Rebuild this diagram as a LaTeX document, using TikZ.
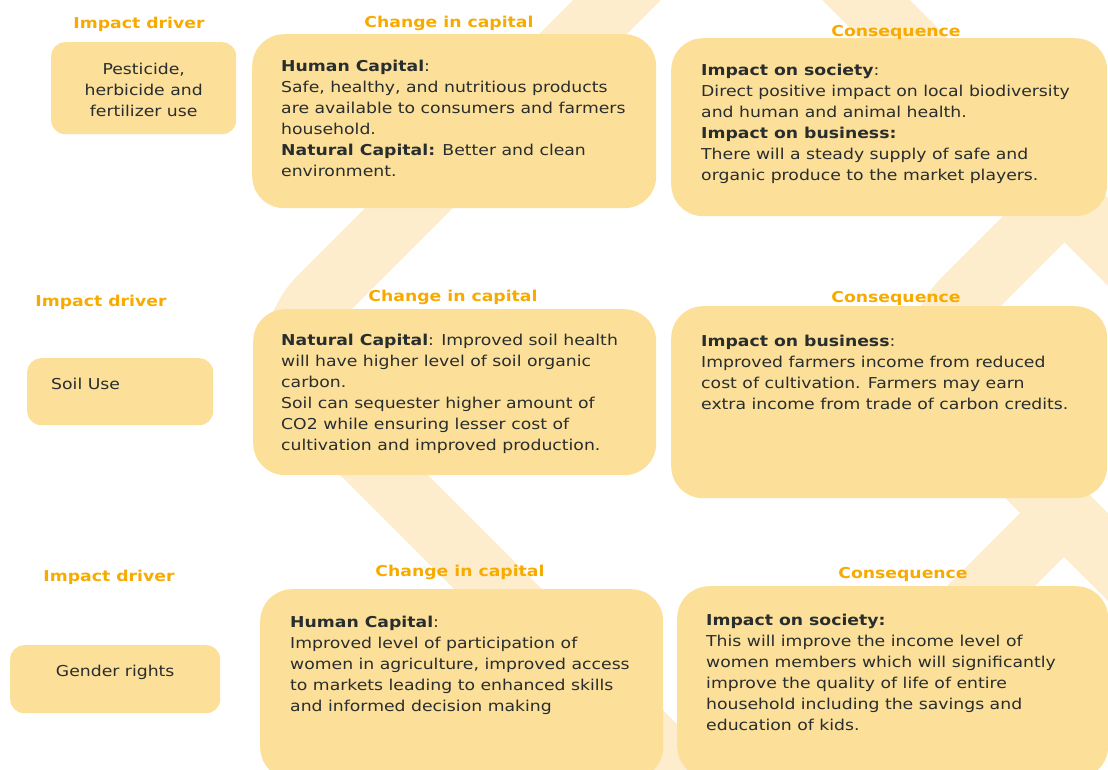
\documentclass[tikz,border=0pt]{standalone}
\usepackage{fontspec}
\setmainfont{DejaVu Sans}[FakeStretch=1.15]
\usetikzlibrary{positioning}

\definecolor{boxfill}{RGB}{252,223,153}
\definecolor{markpale}{RGB}{253,237,205}
\definecolor{headorange}{RGB}{247,170,0}
\definecolor{bodytext}{RGB}{40,45,45}

\tikzset{
  capbox/.style={rectangle, rounded corners=32pt, fill=boxfill, anchor=north west, inner sep=0pt},
  drvbox/.style={capbox, rounded corners=14pt},
  head/.style={font=\bfseries\fontsize{15}{18}\selectfont, text=headorange, inner sep=0pt},
  body/.style={font=\fontsize{15}{21}\selectfont, text=bodytext, align=left, inner sep=0pt, anchor=north west},
  band/.style={draw=markpale, line width=62pt, rounded corners=80pt},
}

\begin{document}
\begin{tikzpicture}[x=1pt, y=-1pt]
  \useasboundingbox (0,0) rectangle (1108,769);
  \clip (0,0) rectangle (1108,769);

  % pale logo in the back
  \draw[band] (700,-83) -- (263,354) -- (700,791);
  \draw[band] (800,-66) -- (1200,334);
  \draw[band] (1064,199) -- (907,356) -- (1150,599);
  \draw[band] (1064,513) -- (780,797);

  % row 1
  \node[drvbox, minimum width=185pt, minimum height=92pt] (drv1) at (51,42) {};
  \node[capbox, minimum width=404pt, minimum height=174pt] (chg1) at (252,34) {};
  \node[capbox, minimum width=436pt, minimum height=178pt] (con1) at (671,38) {};
  \node[head] (hdrv1) at (139,24) {Impact driver};
  \node[head] (hchg1) at (449,23) {Change in capital};
  \node[head] (hcon1) at (896,32) {Consequence};
  \node[body, anchor=center, align=center] (tdrv1) at ([yshift=-2pt]drv1.center) {Pesticide,\\herbicide and\\fertilizer use};
  \node[body, below right=26pt and 29pt of chg1.north west] (tchg1)
    {\textbf{Human Capital}:\\Safe, healthy, and nutritious products\\are available to consumers and farmers\\household.\\\textbf{Natural Capital:} Better and clean\\environment.};
  \node[body, below right=26pt and 30pt of con1.north west] (tcon1)
    {\textbf{Impact on society}:\\Direct positive impact on local biodiversity\\and human and animal health.\\\textbf{Impact on business:}\\There will a steady supply of safe and\\organic produce to the market players.};

  % row 2
  \node[drvbox, minimum width=186pt, minimum height=67pt] (drv2) at (27,358) {};
  \node[capbox, minimum width=403pt, minimum height=166pt] (chg2) at (253,309) {};
  \node[capbox, minimum width=436pt, minimum height=192pt] (con2) at (671,306) {};
  \node[head] (hdrv2) at (101,302) {Impact driver};
  \node[head] (hchg2) at (453,297) {Change in capital};
  \node[head] (hcon2) at (896,298) {Consequence};
  \node[body, anchor=west] (tdrv2) at ([xshift=24pt, yshift=8pt]drv2.west) {Soil Use};
  \node[body, below right=25pt and 28pt of chg2.north west] (tchg2)
    {\textbf{Natural Capital}: Improved soil health\\will have higher level of soil organic\\carbon.\\Soil can sequester higher amount of\\CO2 while ensuring lesser cost of\\cultivation and improved production.};
  \node[body, below right=29pt and 30pt of con2.north west] (tcon2)
    {\textbf{Impact on business}:\\Improved farmers income from reduced\\cost of cultivation. Farmers may earn\\extra income from trade of carbon credits.};

  % row 3
  \node[drvbox, minimum width=210pt, minimum height=68pt] (drv3) at (10,645) {};
  \node[capbox, minimum width=403pt, minimum height=190pt] (chg3) at (260,589) {};
  \node[capbox, minimum width=431pt, minimum height=192pt] (con3) at (677,586) {};
  \node[head] (hdrv3) at (109,577) {Impact driver};
  \node[head] (hchg3) at (460,572) {Change in capital};
  \node[head] (hcon3) at (903,574) {Consequence};
  \node[body, anchor=center, align=center] (tdrv3) at ([yshift=7pt]drv3.center) {Gender rights};
  \node[body, below right=27pt and 30pt of chg3.north west] (tchg3)
    {\textbf{Human Capital}:\\Improved level of participation of\\women in agriculture, improved access\\to markets leading to enhanced skills\\and informed decision making};
  \node[body, below right=28pt and 29pt of con3.north west] (tcon3)
    {\textbf{Impact on society:}\\This will improve the income level of\\women members which will significantly\\improve the quality of life of entire\\household including the savings and\\education of kids.};
\end{tikzpicture}
\end{document}
